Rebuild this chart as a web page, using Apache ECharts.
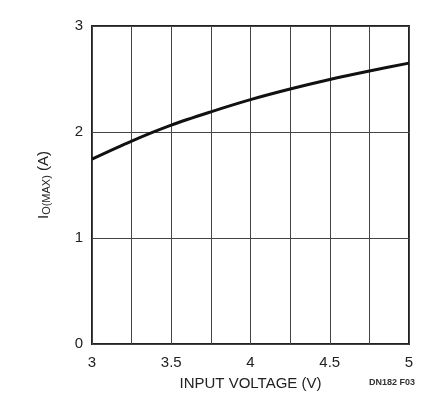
<!DOCTYPE html>
<html>
<head>
  <meta charset="UTF-8">
  <script src="https://cdn.jsdelivr.net/npm/echarts@6/dist/echarts.min.js"></script>
  <style>
    html, body { margin: 0; padding: 0; background: #fff; }
    #chart { width: 435px; height: 406px; }
  </style>
</head>
<body>
  <div id="chart"></div>
  <script>
    // input voltage (V) vs maximum output current (A)
    const voltages = [3, 3.25, 3.5, 3.75, 4, 4.25, 4.5, 4.75, 5];
    const currents = [1.745, 1.915, 2.065, 2.19, 2.305, 2.405, 2.495, 2.575, 2.65];
    const xTickLabels = ['3', '3.5', '4', '4.5', '5'];

    const font = '"Liberation Sans Narrow", "Arial Narrow", "Liberation Sans", sans-serif';
    const chart = echarts.init(document.getElementById('chart'));

    chart.setOption({
      animation: false,
      backgroundColor: '#fff',
      grid: { left: 92, right: 26, top: 26, bottom: 62, show: true, borderColor: '#222', borderWidth: 2 },
      xAxis: {
        type: 'value', min: 3, max: 5, interval: 0.25,
        name: 'INPUT VOLTAGE (V)', nameLocation: 'middle', nameGap: 32,
        nameTextStyle: { color: '#222', fontSize: 15, fontFamily: font },
        axisLine: { show: false }, axisTick: { show: false },
        axisLabel: {
          color: '#222', fontSize: 15, fontFamily: font, margin: 11,
          formatter: v => xTickLabels.includes(String(v)) ? String(v) : ''
        },
        splitLine: { lineStyle: { color: '#444', width: 1 } }
      },
      yAxis: {
        type: 'value', min: 0, max: 3, interval: 1,
        name: '{m|I}{s|O(MAX)}{m| (A)}', nameLocation: 'middle', nameGap: 40,
        nameTextStyle: {
          fontFamily: font,
          rich: {
            m: { fontSize: 15, color: '#222', fontFamily: font },
            s: { fontSize: 11, color: '#222', fontFamily: font, verticalAlign: 'bottom', padding: [6, 0, 0, 0] }
          }
        },
        axisLine: { show: false }, axisTick: { show: false },
        axisLabel: { color: '#222', fontSize: 15, fontFamily: font, margin: 9 },
        splitLine: { lineStyle: { color: '#444', width: 1 } }
      },
      graphic: [{
        type: 'text', left: 369, top: 378,
        style: { text: 'DN182 F03', fill: '#333', fontSize: 9, fontWeight: 'bold', fontFamily: font }
      }],
      series: [{
        type: 'line', smooth: 0.3, symbol: 'none',
        data: voltages.map((v, i) => [v, currents[i]]),
        lineStyle: { color: '#111', width: 3 }
      }]
    });
  </script>
</body>
</html>
